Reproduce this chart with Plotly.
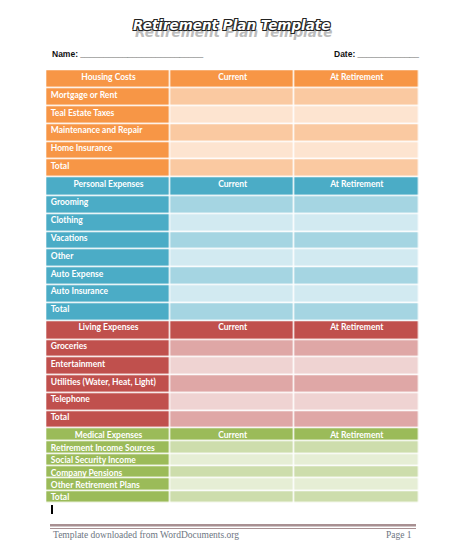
import numpy as np
import plotly.graph_objects as go

# ---------------- data (text content of the template) ----------------
title_text = "Retirement Plan Template"
name_label = "Name:"
date_label = "Date:"
column_headers = ["Current", "At Retirement"]
section_titles = ["Housing Costs", "Personal Expenses", "Living Expenses", "Medical Expenses"]
housing_items = ["Mortgage or Rent", "Teal Estate Taxes", "Maintenance and Repair",
                 "Home Insurance", "Total"]
personal_items = ["Grooming", "Clothing", "Vacations", "Other", "Auto Expense",
                  "Auto Insurance", "Total"]
living_items = ["Groceries", "Entertainment", "Utilities (Water, Heat, Light)",
                "Telephone", "Total"]
medical_items = ["Retirement Income Sources", "Social Security Income", "Company Pensions",
                 "Other Retirement Plans", "Total"]
footer_left = "Template downloaded from WordDocuments.org"
footer_right = "Page 1"

section_items = [housing_items, personal_items, living_items, medical_items]

# ---------------- style ----------------
W, H = 463, 556
PAGE_MARGIN = 8   # browser default body margin
col_edges = [46.3, 170.7, 294.7, 418.8]
table_top = 70.25
header_pitch = [18.2, 18.7, 19.0, 13.2]
row_pitch = [17.8, 17.8, 17.75, 12.3]
palettes = [("#F79646", "#FAC9A1", "#FDE4D0"),
            ("#4BACC6", "#A5D5E2", "#D2EAF1"),
            ("#C0504D", "#DFA7A6", "#EFD3D2"),
            ("#9BBB59", "#CDDDAC", "#E6EED5")]
text_offset = 7.2
cell_font = dict(family="Lato", size=8.5, color="white", weight="bold")

# ---------------- build grid ----------------
y_edges = [table_top]
z = []
header_rows = []   # (row_top, section index)
item_rows = []     # (row_top, label)
for s, items in enumerate(section_items):
    top = y_edges[-1]
    header_rows.append((top, s))
    y_edges.append(top + header_pitch[s])
    z.append([3 * s, 3 * s, 3 * s])
    for i, lab in enumerate(items):
        top = y_edges[-1]
        item_rows.append((top, lab))
        y_edges.append(top + row_pitch[s])
        light = 3 * s + 1 + (i % 2)
        z.append([3 * s, light, light])

colors = [c for p in palettes for c in p]
n = len(colors)
cs = []
for i, c in enumerate(colors):
    cs.append([i / n, c])
    cs.append([(i + 1) / n, c])

fig = go.Figure()
fig.add_trace(go.Heatmap(x=col_edges, y=y_edges, z=z, colorscale=cs,
                         zmin=-0.5, zmax=n - 0.5, showscale=False,
                         xgap=1.5, ygap=1.5, hoverinfo="skip"))

col_centers = [(col_edges[i] + col_edges[i + 1]) / 2 for i in range(3)]

hx, hy, ht = [], [], []
for top, s in header_rows:
    for c, t in enumerate([section_titles[s]] + column_headers):
        hx.append(col_centers[c])
        hy.append(top + text_offset)
        ht.append(t)
fig.add_trace(go.Scatter(x=hx, y=hy, text=ht, mode="text", textposition="middle center",
                         textfont=cell_font, hoverinfo="skip", showlegend=False))

ix = [col_edges[0] + 4.5] * len(item_rows)
iy = [top + text_offset for top, _ in item_rows]
it = [lab for _, lab in item_rows]
fig.add_trace(go.Scatter(x=ix, y=iy, text=it, mode="text", textposition="middle right",
                         textfont=cell_font, hoverinfo="skip", showlegend=False))

# ---------------- title, name/date, footer ----------------
outline = "-1px -1px 0 #222, 1px -1px 0 #222, -1px 1px 0 #222, 1px 1px 0 #222"
fig.add_annotation(x=233, y=32, xref="x", yref="y", text=title_text, showarrow=False,
                   font=dict(family="DejaVu Sans", size=13.5, color="#a0a0a0",
                             weight="bold", style="italic"), opacity=0.7)
fig.add_annotation(x=231.5, y=24.5, xref="x", yref="y", text=title_text, showarrow=False,
                   font=dict(family="DejaVu Sans", size=13.5, color="white",
                             weight="bold", style="italic", shadow=outline))
fig.add_annotation(x=50, y=54, xref="x", yref="y", xanchor="left",
                   text=name_label + " " + "_" * 26, showarrow=False,
                   font=dict(family="Liberation Sans", size=8.5, color="#111", weight="bold"))
fig.add_annotation(x=332, y=54, xref="x", yref="y", xanchor="left",
                   text=date_label + " " + "_" * 13, showarrow=False,
                   font=dict(family="Liberation Sans", size=8.5, color="#111", weight="bold"))

foot_color = "#A89092"
fig.add_shape(type="line", x0=50, x1=416, y0=525.3, y1=525.3, xref="x", yref="y",
              line=dict(color=foot_color, width=2.5))
fig.add_shape(type="line", x0=50, x1=416, y0=528.5, y1=528.5, xref="x", yref="y",
              line=dict(color=foot_color, width=1))
fig.add_shape(type="line", x0=52, x1=52, y0=505, y1=514, xref="x", yref="y",
              line=dict(color="black", width=2))
fig.add_annotation(x=51, y=534.5, xref="x", yref="y", xanchor="left", text=footer_left,
                   showarrow=False, font=dict(family="Liberation Serif", size=9.5, color="#6E7682"))
fig.add_annotation(x=414, y=534.5, xref="x", yref="y", xanchor="right", text=footer_right,
                   showarrow=False, font=dict(family="Liberation Serif", size=9.5, color="#6E7682"))

# figure sits inside the page's default 8px body margin; map axes to window pixels
fig.update_layout(width=W - PAGE_MARGIN, height=H - PAGE_MARGIN,
                  margin=dict(l=0, r=0, t=0, b=0),
                  paper_bgcolor="white", plot_bgcolor="white", showlegend=False,
                  xaxis=dict(range=[PAGE_MARGIN, W], visible=False, fixedrange=True),
                  yaxis=dict(range=[H, PAGE_MARGIN], visible=False, fixedrange=True))

fig.write_html("out.html")
